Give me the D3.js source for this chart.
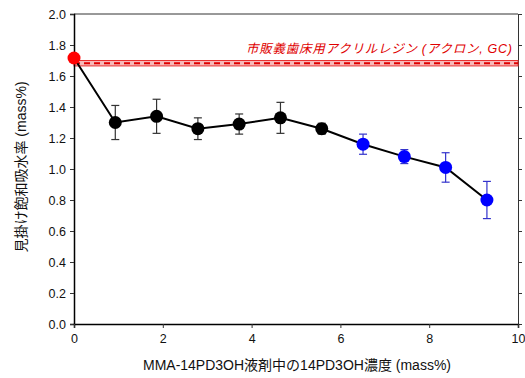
<!DOCTYPE html>
<html>
<head>
<meta charset="utf-8">
<script src="https://cdn.jsdelivr.net/npm/d3@7"></script>
<style>
  body { margin: 0; background: #fff; }
  svg text { font-family: "Liberation Sans", Arial, "Noto Sans CJK JP", sans-serif; }
</style>
</head>
<body>
<svg id="chart" width="525" height="378"></svg>
<script>
// concentration of 14PD3OH (mass%)
var conc = [0, 0.93, 1.86, 2.79, 3.72, 4.65, 5.58, 6.51, 7.44, 8.37, 9.3];
// apparent saturated water absorption (mass%)
var absorb = [1.716, 1.30, 1.34, 1.26, 1.29, 1.33, 1.26, 1.16, 1.08, 1.01, 0.80];
var errs = [0, 0.11, 0.11, 0.07, 0.065, 0.10, 0.035, 0.065, 0.045, 0.095, 0.12];
var groups = ["ref", "black", "black", "black", "black", "black", "black", "blue", "blue", "blue", "blue"];
// commercial resin reference (Acron, GC)
var refMean = 1.683;
var refBand = [1.665, 1.70];
var xTicks = [0, 2, 4, 6, 8, 10];
var yTicks = [0, 0.2, 0.4, 0.6, 0.8, 1.0, 1.2, 1.4, 1.6, 1.8, 2.0];

var colors = { ref: "#ff0000", black: "#000000", blue: "#0000ff" };
var barColors = { ref: "#ff0000", black: "#333333", blue: "#3333cc" };

var svg = d3.select("#chart");
var plotL = 74, plotR = 518, plotT = 14, plotB = 324;

var x = d3.scaleLinear().domain([0, 10]).range([plotL, plotR]);
var y = d3.scaleLinear().domain([0, 2]).range([plotB, plotT]);

var data = conc.map(function(c, i) {
	return { x: c, y: absorb[i], e: errs[i], g: groups[i] };
});

// frame
svg.append("line").attr("x1", plotL).attr("x2", plotR).attr("y1", plotT).attr("y2", plotT)
	.attr("stroke", "#333").attr("stroke-width", 1);

// right axis with outward ticks, no labels
svg.append("g")
	.attr("transform", "translate(" + plotR + ",0)")
	.call(d3.axisRight(y).tickValues(yTicks).tickSize(4).tickFormat(""))
	.call(function(g) { g.selectAll("line,path").attr("stroke", "#333"); });

// reference band
svg.append("rect")
	.attr("x", x(0)).attr("width", x(10) - x(0))
	.attr("y", y(refBand[1])).attr("height", y(refBand[0]) - y(refBand[1]))
	.attr("fill", "#f7b8b8").attr("stroke", "#e83030").attr("stroke-width", 1);
svg.append("line")
	.attr("x1", x(0)).attr("x2", x(10))
	.attr("y1", y(refMean)).attr("y2", y(refMean))
	.attr("stroke", "#e00000").attr("stroke-width", 2)
	.attr("stroke-dasharray", "6,4");

svg.append("text")
	.attr("x", 246).attr("y", 53)
	.attr("textLength", 266).attr("lengthAdjust", "spacing")
	.attr("font-size", 12.5).attr("font-style", "italic")
	.attr("fill", "#e00000")
	.text("市販義歯床用アクリルレジン (アクロン, GC)");

// axes
var yAxis = svg.append("g")
	.attr("transform", "translate(" + plotL + ",0)")
	.call(d3.axisLeft(y).tickValues(yTicks).tickSize(4).tickPadding(4)
		.tickFormat(d3.format(".1f")));
var xAxis = svg.append("g")
	.attr("transform", "translate(0," + plotB + ")")
	.call(d3.axisBottom(x).tickValues(xTicks).tickSize(4).tickPadding(6)
		.tickFormat(d3.format("d")));
[xAxis, yAxis].forEach(function(a) {
	a.select(".domain").attr("stroke", "#000").attr("stroke-width", 1.5);
	a.selectAll(".tick line").attr("stroke", "#333");
	a.selectAll("text").attr("font-size", 12.5).attr("fill", "#111");
});

// error bars
var eb = svg.append("g").selectAll("g")
	.data(data.filter(function(d) { return d.e > 0; }))
	.enter().append("g")
		.attr("stroke", function(d) { return barColors[d.g]; })
		.attr("stroke-width", 1.2);
eb.append("line")
	.attr("x1", function(d) { return x(d.x); }).attr("x2", function(d) { return x(d.x); })
	.attr("y1", function(d) { return y(d.y + d.e); }).attr("y2", function(d) { return y(d.y - d.e); });
eb.append("line")
	.attr("x1", function(d) { return x(d.x) - 4; }).attr("x2", function(d) { return x(d.x) + 4; })
	.attr("y1", function(d) { return y(d.y + d.e); }).attr("y2", function(d) { return y(d.y + d.e); });
eb.append("line")
	.attr("x1", function(d) { return x(d.x) - 4; }).attr("x2", function(d) { return x(d.x) + 4; })
	.attr("y1", function(d) { return y(d.y - d.e); }).attr("y2", function(d) { return y(d.y - d.e); });

// line
var line = d3.line().x(function(d) { return x(d.x); }).y(function(d) { return y(d.y); });
svg.append("path")
	.datum(data)
	.attr("d", line)
	.attr("fill", "none")
	.attr("stroke", "#000")
	.attr("stroke-width", 2);

// markers
svg.append("g").selectAll("circle")
	.data(data)
	.enter().append("circle")
		.attr("cx", function(d) { return x(d.x); })
		.attr("cy", function(d) { return y(d.y); })
		.attr("r", 6.5)
		.attr("fill", function(d) { return colors[d.g]; });

// axis titles
svg.append("text")
	.attr("x", 297).attr("y", 370)
	.attr("text-anchor", "middle")
	.attr("font-size", 14).attr("fill", "#111")
	.text("MMA-14PD3OH液剤中の14PD3OH濃度 (mass%)");
svg.append("text")
	.attr("transform", "translate(26,167) rotate(-90)")
	.attr("text-anchor", "middle")
	.attr("font-size", 14).attr("fill", "#111")
	.text("見掛け飽和吸水率 (mass%)");
</script>
</body>
</html>
